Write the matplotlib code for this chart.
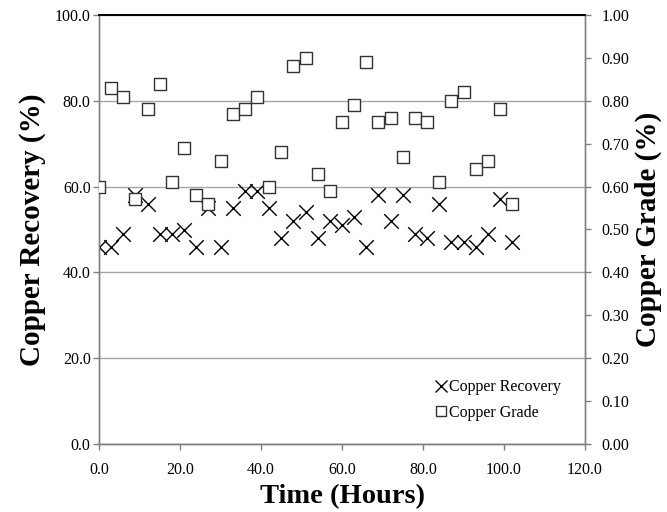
import matplotlib
matplotlib.use("Agg")
import matplotlib.pyplot as plt
from matplotlib.ticker import FormatStrFormatter, MultipleLocator
from matplotlib.lines import Line2D

time_hours = [0, 3, 6, 9, 12, 15, 18, 21, 24, 27, 30, 33, 36, 39, 42, 45, 48, 51,
              54, 57, 60, 63, 66, 69, 72, 75, 78, 81, 84, 87, 90, 93, 96, 99, 102]
copper_recovery = [46, 46, 49, 58, 56, 49, 49, 50, 46, 55, 46, 55, 59, 59, 55, 48, 52, 54,
                   48, 52, 51, 53, 46, 58, 52, 58, 49, 48, 56, 47, 47, 46, 49, 57, 47]
copper_grade = [0.60, 0.83, 0.81, 0.57, 0.78, 0.84, 0.61, 0.69, 0.58, 0.56, 0.66, 0.77,
                0.78, 0.81, 0.60, 0.68, 0.88, 0.90, 0.63, 0.59, 0.75, 0.79, 0.89, 0.75,
                0.76, 0.67, 0.76, 0.75, 0.61, 0.80, 0.82, 0.64, 0.66, 0.78, 0.56]

plt.rcParams['font.family'] = ['Liberation Serif', 'DejaVu Serif']

fig = plt.figure(figsize=(6.67, 5.12), dpi=100)
ax = fig.add_axes([99/667, 1-444/512, (585-99)/667, (444-15)/512])
ax2 = ax.twinx()

grid_c = '#a6a6a6'
spine_c = '#808080'

ax.set_xlim(0, 120)
ax.set_ylim(0, 100)
ax2.set_ylim(0, 1.0)
ax.xaxis.set_major_locator(MultipleLocator(20))
ax.yaxis.set_major_locator(MultipleLocator(20))
ax2.yaxis.set_major_locator(MultipleLocator(0.1))
ax.xaxis.set_major_formatter(FormatStrFormatter('%.1f'))
ax.yaxis.set_major_formatter(FormatStrFormatter('%.1f'))
ax2.yaxis.set_major_formatter(FormatStrFormatter('%.2f'))

ax.yaxis.grid(True, color=grid_c, linewidth=1.0)
ax.set_axisbelow(True)

for a in (ax, ax2):
    for s in ('left', 'right', 'bottom'):
        a.spines[s].set_color(spine_c)
        a.spines[s].set_linewidth(1.0)
    a.spines['top'].set_color('black')
    a.spines['top'].set_linewidth(1.2)
    a.tick_params(direction='out', length=4, width=1.0, color=spine_c,
                  labelsize=11.5, labelcolor='black')
ax.tick_params(axis='x', pad=9)
ax.tick_params(axis='y', pad=2)
ax2.tick_params(axis='y', pad=8)

ax.scatter(time_hours, copper_recovery, marker='x', s=110, c='black',
           linewidths=1.0, zorder=3, label='Copper Recovery')
ax2.scatter(time_hours, copper_grade, marker='s', s=70, facecolors='white',
            edgecolors='#333333', linewidths=1.0, zorder=3, label='Copper Grade')

ax.set_xlabel('Time (Hours)', fontsize=20.5, fontweight='bold', labelpad=4)
ax.set_ylabel('Copper Recovery (%)', fontsize=21, fontweight='bold', labelpad=6)
ax2.set_ylabel('Copper Grade (%)', fontsize=21, fontweight='bold', labelpad=4)

handles = [Line2D([], [], marker='x', linestyle='none', color='black',
                  markersize=8, markeredgewidth=1.0),
           Line2D([], [], marker='s', linestyle='none', markerfacecolor='white',
                  markeredgecolor='#333333', markersize=7, markeredgewidth=1.0)]
leg = ax2.legend(handles, ['Copper Recovery', 'Copper Grade'], loc='lower right',
                 bbox_to_anchor=(0.98, 0.02), frameon=False, fontsize=11.5,
                 handlelength=0.8, handletextpad=0.1, labelspacing=0.6)

fig.savefig('out.png', dpi=100)
